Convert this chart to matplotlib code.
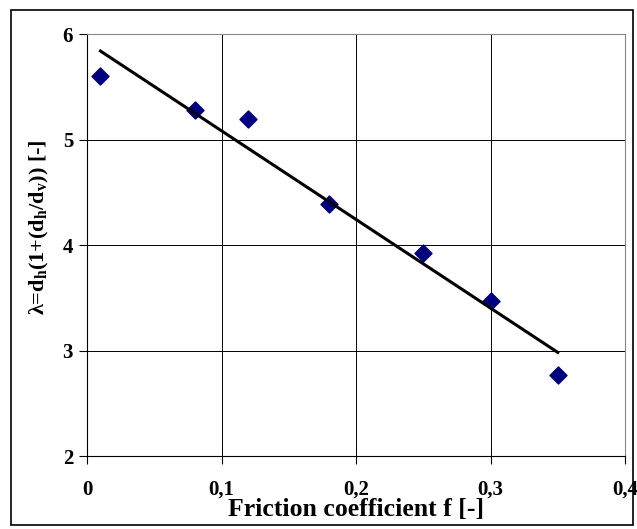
import numpy as np
import matplotlib
matplotlib.use("Agg")
import matplotlib.pyplot as plt
from matplotlib.ticker import FuncFormatter
from matplotlib.patches import Rectangle

# measured data
friction = [0.01, 0.08, 0.12, 0.18, 0.25, 0.30, 0.35]
lam = [5.60, 5.28, 5.19, 4.39, 3.92, 3.47, 2.77]
xticks = [0, 0.1, 0.2, 0.3, 0.4]
yticks = [2, 3, 4, 5, 6]

plt.rcParams['font.family'] = ['Liberation Serif', 'DejaVu Serif']
plt.rcParams['font.weight'] = 'bold'
plt.rcParams['mathtext.fontset'] = 'custom'
plt.rcParams['mathtext.rm'] = 'Liberation Serif:bold'
plt.rcParams['mathtext.it'] = 'Liberation Serif:bold'
plt.rcParams['mathtext.bf'] = 'Liberation Serif:bold'

fig = plt.figure(figsize=(6.37, 5.29), dpi=100)
ax = fig.add_axes([87/637, 1 - 456/529, (625-87)/637, (456-34)/529])

# outer chart border
fig.patches.append(Rectangle((11/637, 4/529), 622/637, 515/529, transform=fig.transFigure,
                             fill=False, edgecolor='black', linewidth=1.2))

ax.scatter(friction, lam, marker='D', s=75, color='#000080', zorder=3)

# linear trend line
k, b = np.polyfit(friction, lam, 1)
xs = np.array([friction[0], friction[-1]])
ax.plot(xs, k * xs + b, color='black', linewidth=2.2, zorder=4)

ax.set_xlim(0, 0.4)
ax.set_ylim(2, 6)
ax.set_xticks(xticks)
ax.set_yticks(yticks)
ax.xaxis.set_major_formatter(FuncFormatter(lambda v, p: ('%g' % v).replace('.', ',')))
ax.grid(True, color='black', linewidth=0.7)
ax.set_axisbelow(True)
for s in ['top', 'right']:
    ax.spines[s].set_color('#888888')
ax.tick_params(axis='both', labelsize=15, length=6, width=0.8, direction='out')
ax.tick_params(axis='x', pad=11)
ax.tick_params(axis='y', pad=4)

ax.set_xlabel('Friction coefficient f [-]', fontsize=18.5, fontweight='bold', labelpad=-1)
ax.set_ylabel(r'λ=d$_{h}$(1+(d$_{h}$/d$_{v}$)) [-]', fontsize=16, fontweight='bold')
ax.yaxis.set_label_coords(-0.066, 0.543)

fig.savefig('out.png', dpi=100)
